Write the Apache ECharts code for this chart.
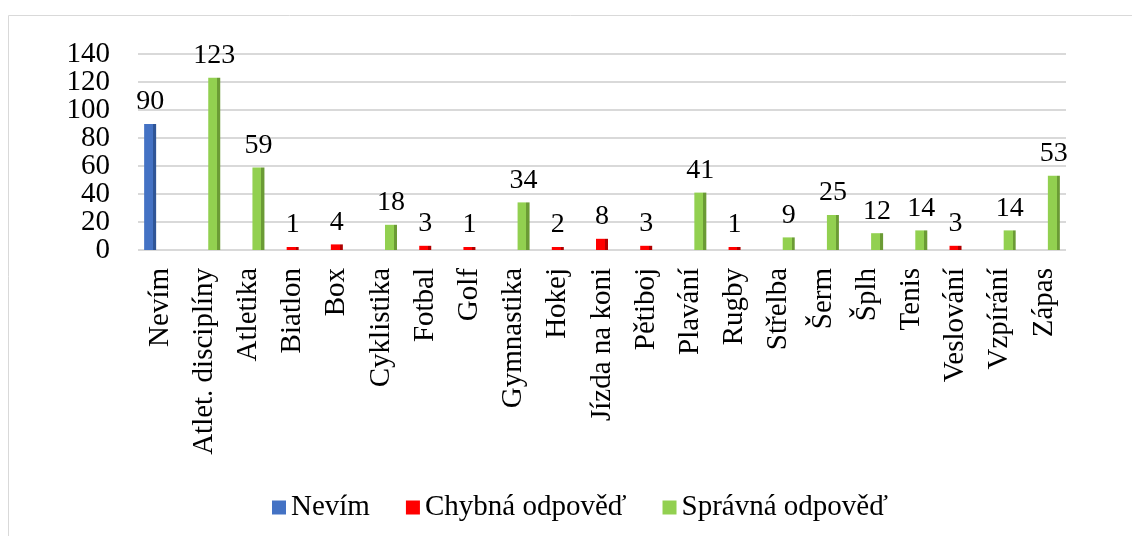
<!DOCTYPE html>
<html>
<head>
<meta charset="utf-8">
<script src="https://cdn.jsdelivr.net/npm/echarts@6/dist/echarts.min.js"></script>
<style>
  html, body { margin: 0; padding: 0; background: #fff; }
  #chart { width: 1132px; height: 536px; }
</style>
</head>
<body>
<div id="chart"></div>
<script>
// kategorie a hodnoty
var categories = ['Nevím', 'Atlet. disciplíny', 'Atletika', 'Biatlon', 'Box', 'Cyklistika', 'Fotbal', 'Golf',
  'Gymnastika', 'Hokej', 'Jízda na koni', 'Pětiboj', 'Plavání', 'Rugby', 'Střelba', 'Šerm', 'Šplh', 'Tenis',
  'Veslování', 'Vzpírání', 'Zápas'];
var values = [90, 123, 59, 1, 4, 18, 3, 1, 34, 2, 8, 3, 41, 1, 9, 25, 12, 14, 3, 14, 53];
// 0 = Nevím, 1 = Chybná odpověď, 2 = Správná odpověď
var answerType = [0, 2, 2, 1, 1, 2, 1, 1, 2, 1, 1, 1, 2, 1, 2, 2, 2, 2, 1, 2, 2];
var seriesNames = ['Nevím', 'Chybná odpověď', 'Správná odpověď'];
var yTicks = [0, 20, 40, 60, 80, 100, 120, 140];

var colors = ['#4472C4', '#FF0000', '#92D050'];
var sideColors = ['#2F5597', '#B00000', '#6B9B35'];
var font = 'Liberation Serif';
var yMin = yTicks[0];
var yMax = yTicks[yTicks.length - 1];

var chart = echarts.init(document.getElementById('chart'));

function barColor (i) {
  // fake 3D: darker right side of the column
  return new echarts.graphic.LinearGradient(0, 0, 1, 0, [
    { offset: 0, color: colors[i] },
    { offset: 0.74, color: colors[i] },
    { offset: 0.74, color: sideColors[i] },
    { offset: 1, color: sideColors[i] }
  ]);
}

var series = seriesNames.map(function (name, s) {
  return {
    name: name,
    type: 'bar',
    barWidth: 12,
    barGap: '-17%',
    barMinHeight: 3,
    itemStyle: { color: barColor(s) },
    label: {
      show: true,
      position: 'top',
      distance: 8,
      color: '#000',
      fontFamily: font,
      fontSize: 28
    },
    data: values.map(function (v, i) { return answerType[i] === s ? v : '-'; })
  };
});

var yLabel = {
  margin: 28,
  color: '#000',
  fontFamily: font,
  fontSize: 29
};

chart.setOption({
  animation: false,
  color: colors,
  graphic: [{
    type: 'rect',
    shape: { x: 8.5, y: 15.5, width: 1140, height: 540 },
    style: { fill: 'none', stroke: '#d9d9d9', lineWidth: 1 },
    silent: true
  }],
  grid: {
    left: 138,
    width: 928,
    top: 54,
    height: 196
  },
  legend: {
    left: 267,
    top: 488,
    icon: 'rect',
    itemWidth: 14,
    itemHeight: 14,
    itemGap: 36,
    textStyle: { fontFamily: font, fontSize: 29, color: '#000' },
    data: seriesNames.map(function (n, i) {
      return { name: n, itemStyle: { color: colors[i] } };
    })
  },
  xAxis: {
    type: 'category',
    data: categories,
    axisLine: { show: false },
    axisTick: { show: false },
    axisLabel: {
      interval: 0,
      rotate: 90,
      margin: 18,
      color: '#000',
      fontFamily: font,
      fontSize: 29
    }
  },
  yAxis: [{
    // inner tick labels + gridlines
    type: 'value',
    position: 'left',
    min: yMin,
    max: yMax,
    interval: 20,
    axisLine: { show: false },
    axisTick: { show: false },
    splitLine: { lineStyle: { color: '#d9d9d9', width: 2 } },
    axisLabel: Object.assign({ showMinLabel: false, showMaxLabel: false }, yLabel)
  }, {
    // min / max tick labels only
    type: 'value',
    position: 'left',
    offset: 0,
    min: yMin,
    max: yMax,
    interval: 20,
    axisLine: { show: false },
    axisTick: { show: false },
    splitLine: { show: false },
    axisLabel: Object.assign({
      showMinLabel: true,
      showMaxLabel: true,
      formatter: function (v) { return (v === yMin || v === yMax) ? String(v) : ''; }
    }, yLabel)
  }],
  series: series
});
</script>
</body>
</html>
